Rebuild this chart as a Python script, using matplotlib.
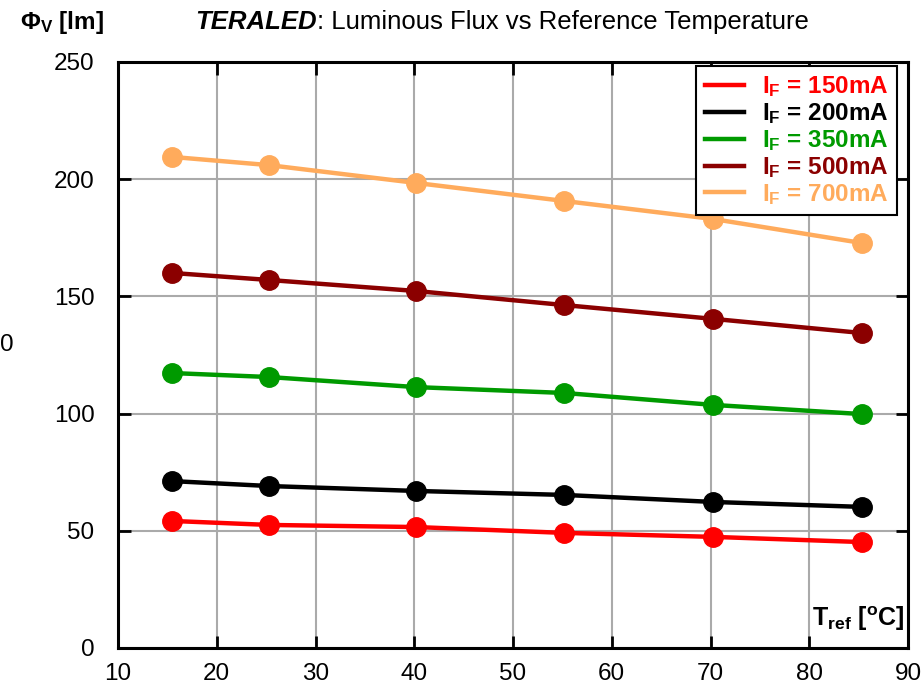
import matplotlib
matplotlib.use("Agg")
import matplotlib.pyplot as plt

plt.rcParams['font.family'] = ['Liberation Sans', 'DejaVu Sans']
plt.rcParams['mathtext.fontset'] = 'custom'
plt.rcParams['mathtext.rm'] = 'Liberation Sans'
plt.rcParams['mathtext.bf'] = 'Liberation Sans:bold'
plt.rcParams['mathtext.it'] = 'Liberation Sans:italic'

# data
t_ref = [15.5, 25.3, 40.2, 55.2, 70.3, 85.3]
flux_150 = [54.2, 52.5, 51.6, 49.1, 47.4, 45.2]
flux_200 = [71.2, 69.1, 67.0, 65.3, 62.3, 60.2]
flux_350 = [117.3, 115.6, 111.3, 108.8, 103.7, 99.8]
flux_500 = [160.0, 157.0, 152.3, 146.3, 140.4, 134.4]
flux_700 = [209.5, 206.0, 198.4, 190.7, 183.0, 172.8]
currents = ['150', '200', '350', '500', '700']
colors = ['#ff0000', '#000000', '#009a00', '#8b0000', '#ffab5c']

W, H = 923, 690
fig = plt.figure(figsize=(W/100, H/100), dpi=100)
ax = fig.add_axes([118/W, 1-648/H, (908-118)/W, (648-62)/H])

series = [flux_150, flux_200, flux_350, flux_500, flux_700]
for cur, vals, c in zip(currents, series, colors):
    ax.plot(t_ref, vals, color=c, lw=3.2, marker='o', ms=14, mec=c, mfc=c,
            label=r'I$_\mathbf{F}$ = ' + cur + 'mA', zorder=3)

ax.set_xlim(10, 90)
ax.set_ylim(0, 250)
ax.set_xticks(range(10, 91, 10))
ax.set_yticks(range(0, 251, 50))
ax.grid(True, color='#aaaaaa', lw=1.5)
ax.set_axisbelow(True)
ax.tick_params(direction='in', length=9, width=2, labelsize=17.5,
               top=True, right=True)
ax.tick_params(axis='y', pad=17)
ax.tick_params(axis='x', pad=11)
for s in ax.spines.values():
    s.set_linewidth(2.2)

# legend box corner at (897, 66) px
anchor = fig.transFigure.transform((897/W, 1-66/H))
anchor = ax.transAxes.inverted().transform(anchor)
leg = ax.legend(loc='upper right', bbox_to_anchor=tuple(anchor), borderaxespad=0,
                handlelength=1.6, fancybox=False, edgecolor='black', framealpha=1,
                labelspacing=0.08, handletextpad=0.75, borderpad=0.35,
                prop={'weight': 'bold', 'size': 17.5})
leg.get_frame().set_linewidth(1.5)
for txt, c in zip(leg.get_texts(), colors):
    txt.set_color(c)
for h in leg.legend_handles:
    h.set_marker('')
    h.set_linewidth(3.2)

ax.text(0.996, 0.025, r'T$_\mathbf{ref}$ [$^\mathbf{o}$C]', transform=ax.transAxes,
        ha='right', va='bottom', fontsize=18, fontweight='bold',
        bbox=dict(facecolor='white', edgecolor='none', pad=1))

fig.text(20/W, 1-22/H, r'$\mathbf{\Phi_V}$ [lm]', fontsize=17.5,
         fontweight='bold', va='center', ha='left')

# title with bold italic brand name
t1 = fig.text(195/W, 1-22/H, 'TERALED', fontsize=18.5, fontweight='bold',
              fontstyle='italic', va='center', ha='left')
fig.canvas.draw()
bb = t1.get_window_extent()
fig.text(bb.x1/fig.bbox.width, 1-22/H, ': Luminous Flux vs Reference Temperature',
         fontsize=18.5, va='center', ha='left')

fig.text(0.0, 1-345/H, '0', fontsize=17.5, va='center', ha='left')

fig.savefig('out.png', dpi=100)
